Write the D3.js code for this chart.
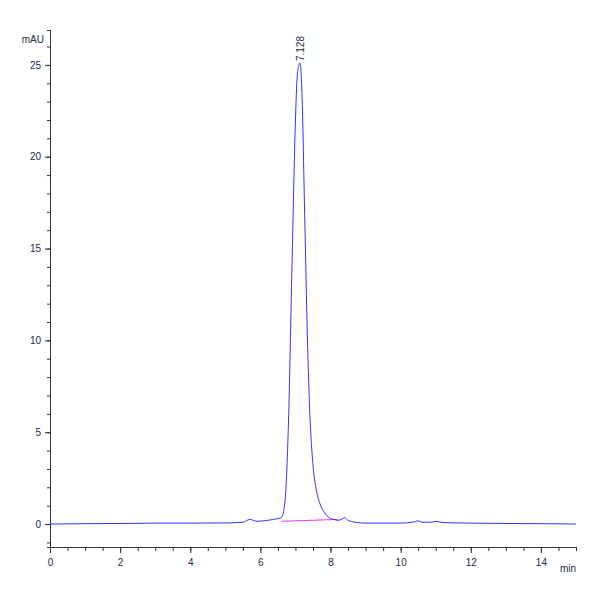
<!DOCTYPE html>
<html><head><meta charset="utf-8">
<script src="https://cdn.jsdelivr.net/npm/d3@7"></script>
<style>body{margin:0;background:#fff}text{font-family:"Liberation Sans",Arial,sans-serif;font-size:10px;fill:#1a2a4a}</style>
</head><body><div id="chart"></div>
<script>
// chromatogram trace (min, mAU)
var times = [0,1,2,3,4,5,5.5,5.7,5.9,6.2,6.5,6.6,6.7,6.8,6.9,7.0,7.05,7.1,7.128,7.16,7.2,7.25,7.3,7.35,7.4,7.5,7.6,7.7,7.8,7.9,8.0,8.1,8.2,8.3,8.4,8.5,8.7,9,9.5,10,10.4,10.5,10.6,10.9,11,11.2,12,13,14,15];
var mAU   = [0,0.02,0.03,0.05,0.05,0.06,0.1,0.25,0.15,0.2,0.3,0.35,1.2,5.5,14,22,24.4,25.0,25.1,24.6,22.5,18,13.5,9.5,6.5,3.2,1.8,1.1,0.7,0.45,0.3,0.25,0.2,0.25,0.35,0.2,0.1,0.05,0.05,0.05,0.12,0.18,0.1,0.1,0.15,0.08,0.05,0.03,0.02,0.0];
var baseT = [6.6, 8.2], baseV = [0.15, 0.25];
var peakLabel = "7.128", peakT = 7.128, peakV = 25.1;
var xTicks = [0,2,4,6,8,10,12,14], yTicks = [0,5,10,15,20,25];

var svg = d3.select("#chart").append("svg").attr("width",600).attr("height",600);
var x = d3.scaleLinear().domain([0,15]).range([50,576]);
var y = d3.scaleLinear().domain([-1.25,26.9]).range([547,30]);

svg.append("g").attr("transform","translate(0,547)")
  .call(d3.axisBottom(x).tickValues(d3.range(0,15.01,0.5)).tickSize(4).tickFormat(""))
  .call(function(g){g.select(".domain").attr("stroke","#333");g.selectAll(".tick line").attr("stroke","#333");});
svg.append("g").attr("transform","translate(0,547)")
  .call(d3.axisBottom(x).tickValues(xTicks).tickSize(6).tickPadding(6))
  .call(function(g){g.select(".domain").remove();g.selectAll(".tick line").attr("stroke","#333");});
svg.append("g").attr("transform","translate(50,0)")
  .call(d3.axisLeft(y).tickValues(d3.range(-1,26.5,1)).tickSize(3).tickFormat(""))
  .call(function(g){g.select(".domain").attr("stroke","#333");g.selectAll(".tick line").attr("stroke","#333");});
svg.append("g").attr("transform","translate(50,0)")
  .call(d3.axisLeft(y).tickValues(yTicks).tickSize(5).tickPadding(4))
  .call(function(g){g.select(".domain").remove();g.selectAll(".tick line").attr("stroke","#333");});

svg.append("text").attr("x",44).attr("y",43).attr("text-anchor","end").text("mAU");
svg.append("text").attr("x",576).attr("y",572).attr("text-anchor","end").text("min");

svg.append("path").datum(d3.zip(baseT,baseV))
  .attr("d",d3.line().x(function(d){return x(d[0]);}).y(function(d){return y(d[1]);}))
  .attr("fill","none").attr("stroke","#ff33cc").attr("stroke-width",1);
svg.append("path").datum(d3.zip(times,mAU))
  .attr("d",d3.line().curve(d3.curveMonotoneX).x(function(d){return x(d[0]);}).y(function(d){return y(d[1]);}))
  .attr("fill","none").attr("stroke","#3333ff").attr("stroke-width",1);

svg.append("text").attr("transform","translate("+(x(peakT)+4)+","+(y(peakV)-2)+") rotate(-90)")
  .attr("text-anchor","start").text(peakLabel);
</script></body></html>
